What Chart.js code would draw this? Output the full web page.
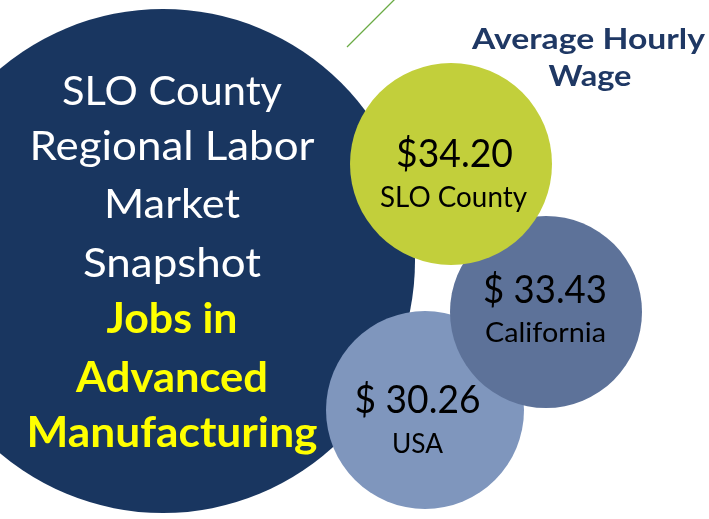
<!DOCTYPE html>
<html>
<head>
<meta charset="utf-8">
<script src="https://cdn.jsdelivr.net/npm/chart.js@4/dist/chart.umd.min.js"></script>
<style>
  html, body { margin: 0; padding: 0; background: #ffffff; }
  #wrap { width: 709px; height: 519px; position: relative; }
</style>
</head>
<body>
<div id="wrap"><canvas id="c" width="709" height="519"></canvas></div>
<script>
// ---- data ----
const regions = ['SLO County', 'California', 'USA'];
const wages = [34.20, 33.43, 30.26];
const wageLabels = ['$34.20', '$ 33.43', '$ 30.26'];
const headingLines = ['Average Hourly', 'Wage'];
const titleLines = ['SLO County', 'Regional Labor', 'Market', 'Snapshot'];
const highlightLines = ['Jobs in', 'Advanced', 'Manufacturing'];

// ---- layout (pixel positions / sizes, not data) ----
const bigCircle = { x: 163, y: 261, r: 252 };
const bubbleLayout = [
  { x: 451, y: 164, r: 101 },  // SLO County
  { x: 546, y: 312, r: 96 },   // California
  { x: 425, y: 410, r: 99 }    // USA
];
const bubbleColors = ['#C2CF3B', '#5D7299', '#7F96BD'];
const drawOrder = [2, 1, 0]; // USA first, then California, SLO on top

const FONT = 'Lato, "Open Sans", sans-serif';

const wageData = drawOrder.map(i => ({ x: bubbleLayout[i].x, y: bubbleLayout[i].y, r: bubbleLayout[i].r, v: wages[i], idx: i }));

// text specs: offsets relative to anchor centre
const bigText = [
  { t: titleLines[0], dx: 9, dy: -156, size: 41, w: 220, weight: 'normal', color: '#FFFFFF' },
  { t: titleLines[1], dx: 9, dy: -101, size: 41, w: 285, weight: 'normal', color: '#FFFFFF' },
  { t: titleLines[2], dx: 9, dy: -43, size: 41, w: 136, weight: 'normal', color: '#FFFFFF' },
  { t: titleLines[3], dx: 9, dy: 16, size: 41, w: 178, weight: 'normal', color: '#FFFFFF' },
  { t: highlightLines[0], dx: 9, dy: 72, size: 42, w: 131, weight: 'bold', color: '#FFFF00' },
  { t: highlightLines[1], dx: 9, dy: 131, size: 42, w: 192, weight: 'bold', color: '#FFFF00' },
  { t: highlightLines[2], dx: 9, dy: 186, size: 42, w: 291, weight: 'bold', color: '#FFFF00' }
];
const bubbleText = [
  { val: { dx: 3.5, dy: 3, size: 38, w: 117 }, name: { dx: 2.5, dy: 43, size: 28, w: 147 } },
  { val: { dx: -1, dy: -9, size: 38, w: 124 }, name: { dx: -0.5, dy: 30, size: 27, w: 121 } },
  { val: { dx: -7.5, dy: 3, size: 38, w: 126 }, name: { dx: -7.5, dy: 43, size: 27, w: 51 } }
];
const headingText = [
  { t: headingLines[0], x: 588.5, y: 49, size: 29, w: 233 },
  { t: headingLines[1], x: 590, y: 86, size: 29, w: 83 }
];

function drawFitted(ctx, text, x, y, size, weight, color, targetW) {
  ctx.save();
  ctx.font = weight + ' ' + size + 'px ' + FONT;
  ctx.fillStyle = color;
  ctx.textAlign = 'center';
  ctx.textBaseline = 'alphabetic';
  const w = ctx.measureText(text).width;
  ctx.translate(x, y);
  if (targetW && w > 0) ctx.scale(targetW / w, 1);
  ctx.fillText(text, 0, 0);
  ctx.restore();
}

const textPlugin = {
  id: 'labels',
  afterDatasetsDraw(chart) {
    const ctx = chart.ctx;
    const xs = chart.scales.x, ys = chart.scales.y;
    // big circle text
    const bx = xs.getPixelForValue(bigCircle.x), by = ys.getPixelForValue(bigCircle.y);
    bigText.forEach(s => drawFitted(ctx, s.t, bx + s.dx, by + s.dy, s.size, s.weight, s.color, s.w));
    // bubble texts
    const meta = chart.getDatasetMeta(1);
    meta.data.forEach((el, k) => {
      const i = wageData[k].idx;
      const spec = bubbleText[i];
      drawFitted(ctx, wageLabels[i], el.x + spec.val.dx, el.y + spec.val.dy, spec.val.size, 'normal', '#000000', spec.val.w);
      drawFitted(ctx, regions[i], el.x + spec.name.dx, el.y + spec.name.dy, spec.name.size, 'normal', '#000000', spec.name.w);
    });
    // heading
    headingText.forEach(s => drawFitted(ctx, s.t, s.x, s.y, s.size, 'bold', '#1F3864', s.w));
  }
};

new Chart(document.getElementById('c'), {
  type: 'bubble',
  data: {
    datasets: [
      {
        label: 'Snapshot',
        data: [{ x: bigCircle.x, y: bigCircle.y, r: bigCircle.r }],
        backgroundColor: '#193660',
        borderWidth: 0,
        clip: false,
        order: 3
      },
      {
        label: 'Average Hourly Wage',
        data: wageData,
        backgroundColor: wageData.map(d => bubbleColors[d.idx]),
        borderWidth: 0,
        clip: false,
        order: 2
      },
      {
        type: 'line',
        label: 'accent',
        data: [{ x: 347, y: 47 }, { x: 396, y: -2 }],
        borderColor: '#6AAB45',
        borderWidth: 1.3,
        pointRadius: 0,
        fill: false,
        clip: false,
        order: 1
      }
    ]
  },
  options: {
    responsive: false,
    animation: false,
    layout: { padding: 0, autoPadding: false },
    plugins: { legend: { display: false }, tooltip: { enabled: false } },
    events: [],
    scales: {
      x: { type: 'linear', min: 0, max: 709, display: false },
      y: { type: 'linear', min: 0, max: 519, reverse: true, display: false }
    }
  },
  plugins: [textPlugin]
});
</script>
</body>
</html>
